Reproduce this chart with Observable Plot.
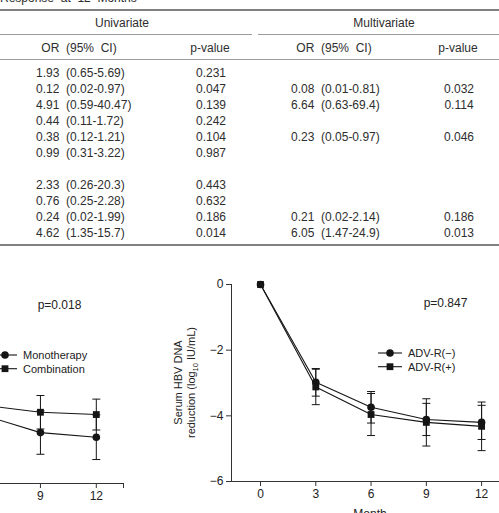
<!DOCTYPE html>
<html>
<head>
<meta charset="utf-8">
<script src="https://cdn.jsdelivr.net/npm/d3@7"></script>
<script src="https://cdn.jsdelivr.net/npm/@observablehq/plot@0.6"></script>
<style>
  html, body { margin: 0; padding: 0; background: #fff; }
  body { width: 499px; height: 513px; overflow: hidden; position: relative;
         font-family: "Liberation Sans", Arial, sans-serif; color: #2e2e2e; }
  .cell { position: absolute; white-space: pre; font-size: 12px; line-height: 14px; }
  .rule { position: absolute; background: #8a8a8a; }
  .chart { position: absolute; }
  .chart svg { max-width: none !important; display: block; }
</style>
</head>
<body>
<div id="table"></div>
<div id="left" class="chart"></div>
<div id="right" class="chart"></div>
<script>
// Odds ratios for response at 12 months (blank = not reported)
const uniOR   = ["1.93", "0.12", "4.91", "0.44", "0.38", "0.99", "", "2.33", "0.76", "0.24", "4.62"];
const uniCI   = ["0.65-5.69", "0.02-0.97", "0.59-40.47", "0.11-1.72", "0.12-1.21", "0.31-3.22", "", "0.26-20.3", "0.25-2.28", "0.02-1.99", "1.35-15.7"];
const uniP    = ["0.231", "0.047", "0.139", "0.242", "0.104", "0.987", "", "0.443", "0.632", "0.186", "0.014"];
const multiOR = ["", "0.08", "6.64", "", "0.23", "", "", "", "", "0.21", "6.05"];
const multiCI = ["", "0.01-0.81", "0.63-69.4", "", "0.05-0.97", "", "", "", "", "0.02-2.14", "1.47-24.9"];
const multiP  = ["", "0.032", "0.114", "", "0.046", "", "", "", "", "0.186", "0.013"];

// Serum HBV DNA reduction (log10 IU/mL), mean and error by month
const months = [0, 3, 6, 9, 12];
const monthTicks = [0, 3, 6, 9, 12];
const reductionTicks = [0, -2, -4, -6];
const monoMean   = [0, -3.05, -3.93, -4.45, -4.59];
const monoErr    = [0, 0.55, 0.60, 0.66, 0.68];
const comboMean  = [0, -3.00, -3.62, -3.83, -3.90];
const comboErr   = [0, 0.50, 0.50, 0.51, 0.47];
const advNegMean = [0, -2.98, -3.74, -4.11, -4.20];
const advNegErr  = [0, 0.42, 0.48, 0.49, 0.52];
const advPosMean = [0, -3.12, -3.96, -4.20, -4.32];
const advPosErr  = [0, 0.54, 0.64, 0.72, 0.74];

// ---------- table ----------
const tbl = document.getElementById("table");
function cell(text, x, cy, align) {
  const d = document.createElement("div");
  d.className = "cell";
  d.textContent = text;
  d.style.top = (cy - 6.7) + "px";
  if (align === "center") { d.style.left = (x - 70) + "px"; d.style.width = "140px"; d.style.textAlign = "center"; }
  else d.style.left = x + "px";
  tbl.appendChild(d);
  return d;
}
function rule(x, y, w, h, color) {
  const d = document.createElement("div");
  d.className = "rule";
  Object.assign(d.style, {left: x + "px", top: y + "px", width: w + "px", height: h + "px"});
  if (color) d.style.background = color;
  tbl.appendChild(d);
}
cell("Response  at  12  Months", 0, -2.8);
rule(0, 9, 499, 2, "#808080");
cell("Univariate", 122, 23, "center");
cell("Multivariate", 384, 23, "center");
rule(0, 34, 252, 1, "#9a9a9a");
rule(258, 34, 241, 1, "#9a9a9a");
cell("OR  (95%  CI)", 79, 47.5, "center");
cell("p-value", 210, 47.5, "center");
cell("OR  (95%  CI)", 334, 47.5, "center");
cell("p-value", 458, 47.5, "center");
rule(0, 59, 499, 1, "#9a9a9a");
uniOR.forEach((v, i) => {
  const cy = 72.7 + 16 * i;
  if (v) cell(`${v}  (${uniCI[i]})`, 36, cy);
  if (uniP[i]) cell(uniP[i], 211, cy, "center");
  if (multiOR[i]) cell(`${multiOR[i]}  (${multiCI[i]})`, 291, cy);
  if (multiP[i]) cell(multiP[i], 459, cy, "center");
});
rule(0, 244, 499, 2, "#808080");

// ---------- charts ----------
const xMin = -1.575, xMax = 13.46;
const capSymbol = {draw(ctx, size) { const w = Math.sqrt(size / Math.PI); ctx.moveTo(-w, 0); ctx.lineTo(w, 0); }};
const ink = "#151515";
const fontFamily = '"Liberation Sans", Arial, sans-serif';

function rowsOf(name, means, errs) {
  return months.map((m, i) => ({group: name, month: m, mean: means[i], err: errs[i]}));
}

function chart({series, frameW, legendDx, pText, pDx}) {
  const mL = 70, mT = 20, mB = 40, mR = 10, H = 197;
  const all = series.flatMap(s => s.rows);
  const withErr = all.filter(d => d.err > 0);
  const legend = (index, scales, values, dims) => {
    const g = d3.create("svg:g").attr("fill", ink).attr("text-anchor", "start")
      .attr("font-size", "11px");
    const x0 = dims.marginLeft + legendDx;
    series.forEach((s, i) => {
      const y = dims.marginTop + 69 + i * 13.7;
      g.append("line").attr("x1", x0 - 12).attr("x2", x0 + 12).attr("y1", y).attr("y2", y)
        .attr("stroke", ink).attr("stroke-width", 1.1);
      if (s.symbol === "circle") g.append("circle").attr("cx", x0).attr("cy", y).attr("r", 3.8);
      else g.append("rect").attr("x", x0 - 3.4).attr("y", y - 3.4).attr("width", 6.8).attr("height", 6.8);
      g.append("text").attr("x", x0 + 18).attr("y", y).attr("dy", "0.35em").attr("fill", "#222").text(s.name);
    });
    return g.node();
  };
  const yLabel = (index, scales, values, dims) => {
    const g = d3.create("svg:g").attr("fill", "#222").attr("text-anchor", "middle").attr("font-size", "11px");
    const cy = dims.marginTop + H / 2;
    g.append("text").attr("transform", `translate(${dims.marginLeft - 53},${cy}) rotate(-90)`)
      .attr("dy", "0.35em").text("Serum HBV DNA");
    const t = g.append("text").attr("transform", `translate(${dims.marginLeft - 40},${cy}) rotate(-90)`)
      .attr("dy", "0.35em");
    t.append("tspan").text("reduction (log");
    t.append("tspan").attr("font-size", "7.5px").attr("dy", "3").text("10");
    t.append("tspan").attr("dy", "-3").text(" IU/mL)");
    return g.node();
  };
  const width = mL + frameW + mR, height = mT + H + mB;
  const svg = Plot.plot({
    width, height,
    marginLeft: mL, marginTop: mT, marginBottom: mB, marginRight: mR,
    style: {fontSize: "12px", fontFamily, color: "#222", background: "transparent", overflow: "visible"},
    x: {domain: [xMin, xMax]},
    y: {domain: [-6, 0]},
    marks: [
      Plot.ruleY([-6], {stroke: "#333"}),
      Plot.ruleX([xMin], {y1: -6, y2: 0, stroke: "#333"}),
      Plot.axisX(monthTicks, {tickSize: 5, tickPadding: 3, label: null, stroke: "#333"}),
      Plot.axisX([xMax], {tickSize: 5, tickFormat: () => "", label: null, stroke: "#333"}),
      Plot.axisY(reductionTicks, {tickSize: 5, tickPadding: 3, label: null, stroke: "#333"}),
      Plot.link(withErr, {x1: "month", x2: "month", y1: d => d.mean - d.err, y2: d => d.mean + d.err, stroke: ink, strokeWidth: 1}),
      Plot.dot(withErr, {x: "month", y: d => d.mean + d.err, symbol: capSymbol, r: 4, stroke: ink, fill: "none", strokeWidth: 1}),
      Plot.dot(withErr, {x: "month", y: d => d.mean - d.err, symbol: capSymbol, r: 4, stroke: ink, fill: "none", strokeWidth: 1}),
      ...series.map(s => Plot.line(s.rows, {x: "month", y: "mean", stroke: ink, strokeWidth: 1.1})),
      ...series.map(s => Plot.dot(s.rows, {x: "month", y: "mean", symbol: s.symbol, r: s.symbol === "circle" ? 3.8 : 3.85, fill: ink})),
      Plot.text([pText], {text: d => d, frameAnchor: "top-left", dx: pDx, dy: 14, textAnchor: "middle", fill: "#222"}),
      Plot.text(["Month"], {text: d => d, frameAnchor: "bottom", dy: 28, lineAnchor: "top", fill: "#222"}),
      legend,
      yLabel
    ]
  });
  svg.style.width = width + "px";
  svg.style.height = height + "px";
  return svg;
}

function place(id, left, top, svg) {
  const el = document.getElementById(id);
  el.style.left = left + "px";
  el.style.top = top + "px";
  el.style.width = svg.getAttribute("width") + "px";
  el.appendChild(svg);
}

place("left", -157 - 70, 286 - 20, chart({
  series: [
    {name: "Monotherapy", symbol: "circle", rows: rowsOf("Monotherapy", monoMean, monoErr)},
    {name: "Combination", symbol: "square", rows: rowsOf("Combination", comboMean, comboErr)}
  ],
  frameW: 280, legendDx: 162, pText: "p=0.018", pDx: 216
}));

place("right", 231 - 70, 284 - 20, chart({
  series: [
    {name: "ADV-R(−)", symbol: "circle", rows: rowsOf("ADV-R(−)", advNegMean, advNegErr)},
    {name: "ADV-R(+)", symbol: "square", rows: rowsOf("ADV-R(+)", advPosMean, advPosErr)}
  ],
  frameW: 277, legendDx: 159, pText: "p=0.847", pDx: 214
}));
</script>
</body>
</html>
